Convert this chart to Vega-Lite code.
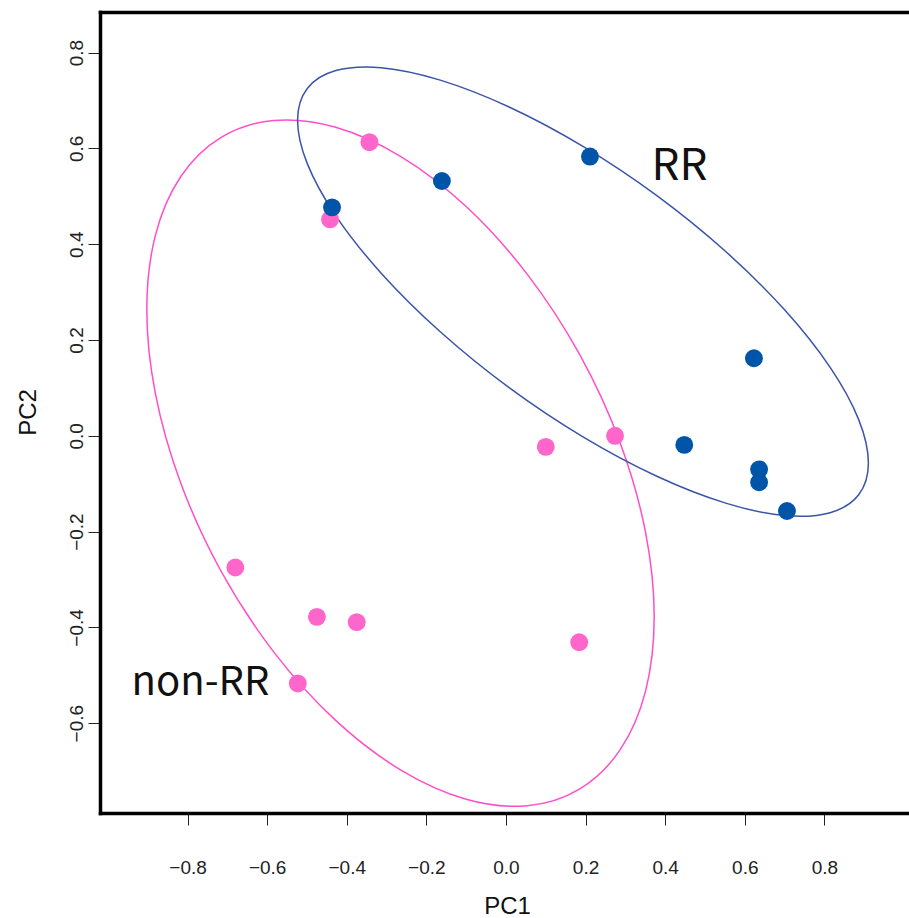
{
  "$schema": "https://vega.github.io/schema/vega-lite/v6.json",
  "width": 809,
  "height": 801,
  "autosize": {"type": "none"},
  "padding": {"left": 100, "top": 12, "right": 0, "bottom": 105},
  "background": "white",
  "config": {"view": {"stroke": null}, "font": "Liberation Sans"},
  "datasets": {
    "ellipses": [
      {"group": "non-RR", "i": 0, "x": 0.3724, "y": -0.3780},
      {"group": "non-RR", "i": 1, "x": 0.3507, "y": -0.2014},
      {"group": "non-RR", "i": 2, "x": 0.2870, "y": -0.0149},
      {"group": "non-RR", "i": 3, "x": 0.1857, "y": 0.1688},
      {"group": "non-RR", "i": 4, "x": 0.0537, "y": 0.3371},
      {"group": "non-RR", "i": 5, "x": -0.1000, "y": 0.4786},
      {"group": "non-RR", "i": 6, "x": -0.2650, "y": 0.5835},
      {"group": "non-RR", "i": 7, "x": -0.4300, "y": 0.6448},
      {"group": "non-RR", "i": 8, "x": -0.5837, "y": 0.6583},
      {"group": "non-RR", "i": 9, "x": -0.7157, "y": 0.6230},
      {"group": "non-RR", "i": 10, "x": -0.8170, "y": 0.5413},
      {"group": "non-RR", "i": 11, "x": -0.8807, "y": 0.4190},
      {"group": "non-RR", "i": 12, "x": -0.9024, "y": 0.2640},
      {"group": "non-RR", "i": 13, "x": -0.8807, "y": 0.0874},
      {"group": "non-RR", "i": 14, "x": -0.8170, "y": -0.0991},
      {"group": "non-RR", "i": 15, "x": -0.7157, "y": -0.2828},
      {"group": "non-RR", "i": 16, "x": -0.5837, "y": -0.4511},
      {"group": "non-RR", "i": 17, "x": -0.4300, "y": -0.5926},
      {"group": "non-RR", "i": 18, "x": -0.2650, "y": -0.6975},
      {"group": "non-RR", "i": 19, "x": -0.1000, "y": -0.7588},
      {"group": "non-RR", "i": 20, "x": 0.0537, "y": -0.7723},
      {"group": "non-RR", "i": 21, "x": 0.1857, "y": -0.7370},
      {"group": "non-RR", "i": 22, "x": 0.2870, "y": -0.6553},
      {"group": "non-RR", "i": 23, "x": 0.3507, "y": -0.5330},
      {"group": "RR", "i": 0, "x": 0.9106, "y": -0.0569},
      {"group": "RR", "i": 1, "x": 0.8862, "y": 0.0338},
      {"group": "RR", "i": 2, "x": 0.8145, "y": 0.1427},
      {"group": "RR", "i": 3, "x": 0.7006, "y": 0.2624},
      {"group": "RR", "i": 4, "x": 0.5521, "y": 0.3847},
      {"group": "RR", "i": 5, "x": 0.3791, "y": 0.5014},
      {"group": "RR", "i": 6, "x": 0.1935, "y": 0.6042},
      {"group": "RR", "i": 7, "x": 0.0079, "y": 0.6865},
      {"group": "RR", "i": 8, "x": -0.1651, "y": 0.7426},
      {"group": "RR", "i": 9, "x": -0.3136, "y": 0.7685},
      {"group": "RR", "i": 10, "x": -0.4275, "y": 0.7625},
      {"group": "RR", "i": 11, "x": -0.4992, "y": 0.7252},
      {"group": "RR", "i": 12, "x": -0.5236, "y": 0.6589},
      {"group": "RR", "i": 13, "x": -0.4992, "y": 0.5682},
      {"group": "RR", "i": 14, "x": -0.4275, "y": 0.4593},
      {"group": "RR", "i": 15, "x": -0.3136, "y": 0.3396},
      {"group": "RR", "i": 16, "x": -0.1651, "y": 0.2173},
      {"group": "RR", "i": 17, "x": 0.0079, "y": 0.1006},
      {"group": "RR", "i": 18, "x": 0.1935, "y": -0.0022},
      {"group": "RR", "i": 19, "x": 0.3791, "y": -0.0845},
      {"group": "RR", "i": 20, "x": 0.5521, "y": -0.1406},
      {"group": "RR", "i": 21, "x": 0.7006, "y": -0.1665},
      {"group": "RR", "i": 22, "x": 0.8145, "y": -0.1605},
      {"group": "RR", "i": 23, "x": 0.8862, "y": -0.1232}
    ],
    "points": [
      {"group": "non-RR", "PC1": -0.343, "PC2": 0.613},
      {"group": "non-RR", "PC1": -0.442, "PC2": 0.452},
      {"group": "non-RR", "PC1": 0.100, "PC2": -0.023},
      {"group": "non-RR", "PC1": 0.274, "PC2": 0.000},
      {"group": "non-RR", "PC1": 0.184, "PC2": -0.431},
      {"group": "non-RR", "PC1": -0.680, "PC2": -0.275},
      {"group": "non-RR", "PC1": -0.475, "PC2": -0.378},
      {"group": "non-RR", "PC1": -0.375, "PC2": -0.389},
      {"group": "non-RR", "PC1": -0.523, "PC2": -0.517},
      {"group": "RR", "PC1": -0.437, "PC2": 0.477},
      {"group": "RR", "PC1": -0.161, "PC2": 0.532},
      {"group": "RR", "PC1": 0.211, "PC2": 0.583},
      {"group": "RR", "PC1": 0.623, "PC2": 0.162},
      {"group": "RR", "PC1": 0.448, "PC2": -0.019},
      {"group": "RR", "PC1": 0.636, "PC2": -0.070},
      {"group": "RR", "PC1": 0.636, "PC2": -0.097},
      {"group": "RR", "PC1": 0.706, "PC2": -0.157}
    ]
  },
  "resolve": {"axis": {"x": "independent"}},
  "layer": [
    {
      "data": {"name": "ellipses"},
      "mark": {"type": "line", "interpolate": "cardinal-closed", "strokeWidth": 1.5},
      "encoding": {
        "x": {
          "field": "x", "type": "quantitative",
          "scale": {"domain": [-1.02, 1.0126], "nice": false, "zero": false},
          "axis": {
            "orient": "bottom",
            "values": [-0.8, -0.6, -0.4, -0.2, 0, 0.2, 0.4, 0.6, 0.8],
            "format": ".1f", "grid": false,
            "domainColor": "black", "domainWidth": 3.5, "domainCap": "square",
            "tickColor": "#222", "tickWidth": 1, "tickSize": 12,
            "labelFont": "Liberation Sans", "labelFontSize": 19, "labelColor": "#222",
            "labelPadding": 48, "labelBaseline": "alphabetic", "labelAlign": "center",
            "title": "PC1", "titleFont": "Liberation Sans", "titleFontSize": 24,
            "titleFontWeight": "normal", "titleColor": "#111",
            "titleBaseline": "alphabetic", "titleAlign": "center",
            "titleX": 407, "titleY": 100
          }
        },
        "y": {
          "field": "y", "type": "quantitative",
          "scale": {"domain": [-0.7875, 0.8848], "nice": false, "zero": false},
          "axis": {
            "orient": "left",
            "values": [-0.6, -0.4, -0.2, 0, 0.2, 0.4, 0.6, 0.8],
            "format": ".1f", "grid": false,
            "domainColor": "black", "domainWidth": 3.5, "domainCap": "square",
            "tickColor": "#222", "tickWidth": 1, "tickSize": 12,
            "labelFont": "Liberation Sans", "labelFontSize": 19, "labelColor": "#222",
            "labelAngle": -90, "labelAlign": "center", "labelBaseline": "alphabetic",
            "labelPadding": 6,
            "title": "PC2", "titleFont": "Liberation Sans", "titleFontSize": 24,
            "titleFontWeight": "normal", "titleColor": "#111",
            "titleAngle": -90, "titleBaseline": "alphabetic", "titleAlign": "center",
            "titleX": -65, "titleY": 400
          }
        },
        "stroke": {
          "field": "group", "type": "nominal",
          "scale": {"domain": ["non-RR", "RR"], "range": ["#FF4FC8", "#3A55A8"]},
          "legend": null
        },
        "order": {"field": "i", "type": "quantitative"}
      }
    },
    {
      "data": {"name": "points"},
      "mark": {"type": "circle", "size": 320, "opacity": 1},
      "encoding": {
        "x": {
          "field": "PC1", "type": "quantitative",
          "axis": {
            "orient": "top", "labels": false, "ticks": false, "title": null, "grid": false,
            "domainColor": "black", "domainWidth": 3.5, "domainCap": "square"
          }
        },
        "y": {"field": "PC2", "type": "quantitative"},
        "fill": {
          "field": "group", "type": "nominal",
          "scale": {"domain": ["non-RR", "RR"], "range": ["#FF66CC", "#0055A8"]},
          "legend": null
        }
      }
    },
    {
      "data": {"values": [{"label": "RR", "x": 0.436, "y": 0.534}]},
      "mark": {"type": "text", "font": "Noto Sans CJK JP", "fontSize": 44, "align": "center", "baseline": "alphabetic", "color": "#111"},
      "encoding": {
        "x": {"field": "x", "type": "quantitative", "axis": null},
        "y": {"field": "y", "type": "quantitative"},
        "text": {"field": "label"}
      }
    },
    {
      "data": {"values": [{"label": "non-RR", "x": -0.7676, "y": -0.541}]},
      "mark": {"type": "text", "font": "Noto Sans CJK JP", "fontSize": 40, "align": "center", "baseline": "alphabetic", "color": "#111"},
      "encoding": {
        "x": {"field": "x", "type": "quantitative", "axis": null},
        "y": {"field": "y", "type": "quantitative"},
        "text": {"field": "label"}
      }
    }
  ]
}
